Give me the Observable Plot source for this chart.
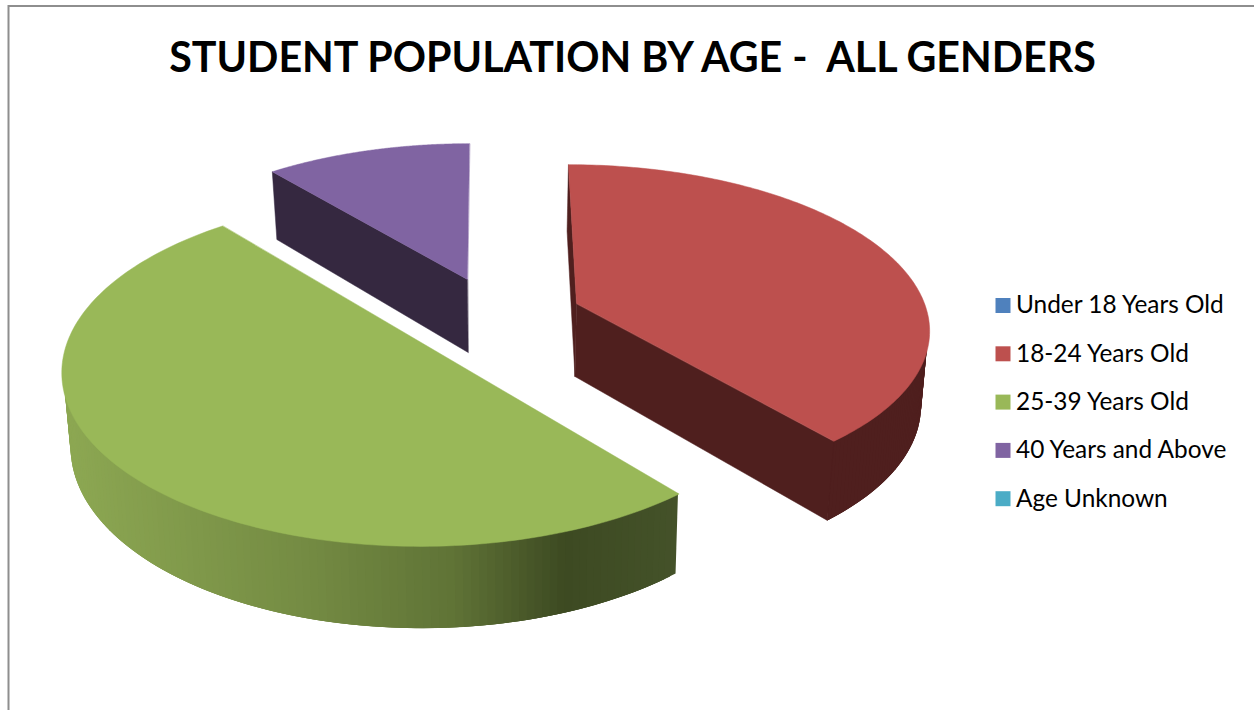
<!DOCTYPE html>
<html>
<head>
<meta charset="utf-8">
<title>Student population by age</title>
<script src="https://cdn.jsdelivr.net/npm/d3@7"></script>
<script src="https://cdn.jsdelivr.net/npm/@observablehq/plot@0.6"></script>
<style>
  html, body { margin: 0; padding: 0; background: #fff; }
  svg { display: block; }
</style>
</head>
<body>
<div id="chart"></div>
<script>
// Share of students in each age band (percent of all genders).
const categories = ["Under 18 Years Old", "18-24 Years Old", "25-39 Years Old", "40 Years and Above", "Age Unknown"];
const shares = [0, 39, 50, 11, 0];
const chartTitle = "STUDENT POPULATION BY AGE -  ALL GENDERS";

// Face colours per band.
const topColors = ["#4F81BD", "#BD504E", "#99B858", "#8064A2", "#4BACC6"];
const wallColors = [null, "#4F1F1E", null, "#352840", null];

// Placement of each exploded wedge: apex on the page, vanishing column,
// half width and foreshortening of the disc.
const wedgeLayout = {
  "18-24 Years Old":    {ax: 576, ay: 303, vx: 512, rx: 348, q: 0.144, startWall: true,  endWall: true},
  "25-39 Years Old":    {ax: 424, ay: 344, vx: 450, rx: 358, q: 0.150, startWall: false, endWall: false},
  "40 Years and Above": {ax: 467, ay: 279, vx: 483, rx: 343, q: 0.144, startWall: true,  endWall: false}
};
const horizonY = -800;
const wallDepth = 73;
const wallLeanX = 500;
const wallLean = 0.02;

// The green rim is shaded across the page from left to right.
const rimShade = d3.scaleLinear()
  .domain([66, 300, 450, 560, 675])
  .range(["#8CA752", "#748B43", "#5F7336", "#3D4A22", "#445229"])
  .clamp(true);

const deg = Math.PI / 180;

// Perspective projection of a point on the disc (angle clockwise from twelve o'clock).
function topPoint(l, angle, r) {
  const w = 1 + l.q * r * Math.cos(angle * deg);
  return {
    x: l.vx + (l.ax - l.vx + l.rx * r * Math.sin(angle * deg)) / w,
    y: horizonY + (l.ay - horizonY) / w,
    w
  };
}
function bottomPoint(l, angle, r) {
  const p = topPoint(l, angle, r);
  return {x: p.x + (wallLeanX - p.x) * wallLean, y: p.y + wallDepth / Math.pow(p.w, 0.7)};
}

const rimFaces = [];
const flatFaces = [];
function addFace(target, id, fill, points) {
  points.forEach((p, i) => target.push({id, fill, i, x: p.x, y: p.y}));
}

// Build wedge faces from the shares, sweeping clockwise from twelve o'clock.
let cumulative = 0;
const total = d3.sum(shares);
categories.forEach((name, k) => {
  const a0 = cumulative / total * 360;
  cumulative += shares[k];
  const a1 = cumulative / total * 360;
  if (shares[k] === 0) return;
  const l = wedgeLayout[name];
  const count = 160;
  const steps = d3.range(0, count + 1).map(i => a0 + (a1 - a0) * i / count);

  // Outer rim on the side facing the viewer. Each strip overlaps the next and
  // tucks slightly under the top face, so no seams show through.
  steps.slice(0, -1).forEach((s, i) => {
    if (Math.cos(s * deg) > 0.1) return;
    const t = steps[Math.min(i + 3, count)];
    const mid = topPoint(l, steps[i + 1], 1);
    const fill = wallColors[k] ?? rimShade(mid.x);
    addFace(rimFaces, `${name} rim ${i}`, fill, [
      topPoint(l, s, 0.996), topPoint(l, t, 0.996), bottomPoint(l, t, 1), bottomPoint(l, s, 1)
    ]);
  });
  // Cut walls.
  const cut = (angle, tag) => addFace(flatFaces, `${name} ${tag}`, wallColors[k], [
    topPoint(l, 0, 0), topPoint(l, angle, 1), bottomPoint(l, angle, 1), bottomPoint(l, 0, 0)
  ]);
  if (l.startWall) cut(a0, "start");
  if (l.endWall) cut(a1, "end");
  // Top face.
  addFace(flatFaces, `${name} top`, topColors[k], [topPoint(l, 0, 0), ...steps.map(a => topPoint(l, a, 1))]);
});

// Legend rows.
const legend = categories.map((label, i) => ({label, color: topColors[i], y: 305 + i * 48.3}));

const chart = Plot.plot({
  width: 1254,
  height: 710,
  margin: 0,
  x: {domain: [0, 1254], range: [0, 1254], axis: null},
  y: {domain: [0, 710], range: [0, 710], axis: null},
  color: {type: "identity"},
  marks: [
    // Chart frame, open at the bottom and right.
    Plot.ruleY([5.5], {x1: 8, x2: 1254, stroke: "#8E8E8E", strokeWidth: 2}),
    Plot.ruleX([8], {y1: 5, y2: 710, stroke: "#8E8E8E", strokeWidth: 2}),
    Plot.line(rimFaces, {
      x: "x", y: "y", z: "id",
      fill: "fill", stroke: "none",
      curve: "linear-closed"
    }),
    Plot.line(flatFaces, {
      x: "x", y: "y", z: "id",
      fill: "fill", stroke: "fill",
      strokeWidth: 0.5,
      curve: "linear-closed"
    }),
    Plot.text([chartTitle], {
      x: 632, y: 58,
      text: d => d,
      fontFamily: "Lato",
      fontWeight: 700,
      fontSize: 41.2,
      fill: "#000"
    }),
    Plot.dot(legend, {
      x: 1002.5, y: "y",
      symbol: "square",
      r: 8.46,
      fill: "color"
    }),
    Plot.text(legend, {
      x: 1015.5, y: "y",
      text: "label",
      textAnchor: "start",
      fontFamily: "Lato",
      fontSize: 24.4,
      fill: "#000"
    })
  ]
});
document.getElementById("chart").append(chart);
</script>
</body>
</html>
